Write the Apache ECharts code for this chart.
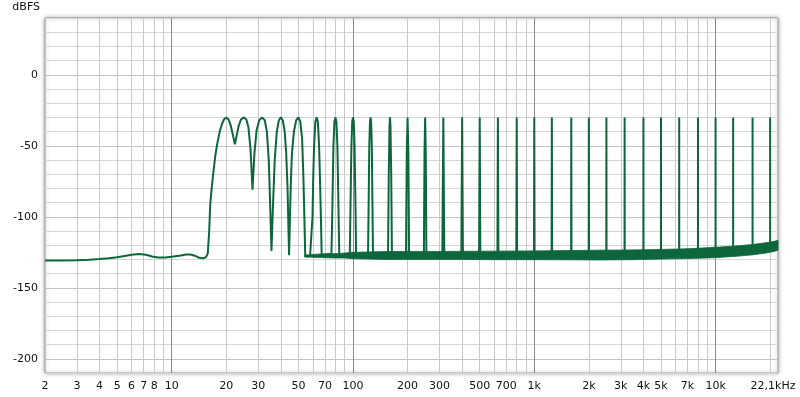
<!DOCTYPE html>
<html>
<head>
<meta charset="utf-8">
<script src="https://cdn.jsdelivr.net/npm/echarts@6/dist/echarts.min.js"></script>
<style>
html,body{margin:0;padding:0;background:#fff;}
#chart{width:800px;height:397px;}
</style>
</head>
<body>
<div id="chart"></div>
<script>
// ---- data ----
const curvePoints = [
  [2,-130.8],[2.5,-130.8],[3,-130.6],[3.5,-130.3],[4,-129.8],[4.5,-129.2],[5,-128.5],[5.5,-127.6],
  [6,-126.8],[6.6,-126.2],[7.2,-126.7],[7.8,-127.9],[8.4,-128.6],[9.2,-128.6],[10,-128.2],[11,-127.5],
  [12,-126.6],[12.7,-126.5],[13.4,-127.4],[14.2,-128.9],[14.9,-129.2],[15.4,-128.6],[15.8,-126],
  [16.1,-110],[16.3,-92],[16.6,-80],[17.0,-68],[17.4,-57],[17.8,-49],[18.4,-40],[18.9,-35],[19.4,-31.5],
  [20,-30],[20.6,-31.5],[21.2,-36],[21.8,-43],[22.3,-49],[22.8,-43],[23.4,-36],[24.1,-31.5],
  [25,-30],[25.8,-31.5],[26.5,-37],[27.2,-52],[27.9,-81],[28.6,-55],[29.4,-39],[30.4,-32],
  [31.5,-30],[32.6,-32],[33.5,-40],[34.3,-60],[34.9,-90],[35.5,-124],[36.2,-92],[37,-60],[38,-40],[39,-32],
  [40,-30],[41,-32],[42,-40],[42.8,-55],[43.5,-78],[44.4,-127],[45.3,-80],[46,-56],[47.2,-40],[48.6,-32],
  [50,-30],[51.2,-33],[52.4,-45],[53.2,-70],[53.8,-95],[54.5,-127],[56,-128],[58,-127],[59,-126.5],
  [59.8,-100],[60.4,-70],[61,-50],[62,-33],[63,-30],[64,-33],[65,-50],[65.8,-75],[66.5,-100],[67.2,-127],
  [70,-128],[73,-126],[76,-127],[76.8,-100],[77.4,-75],[78,-50],[79,-33],
  [80,-30],[81,-33],[82,-50],[82.7,-75],[83.3,-100],[84,-127],[88,-128.5],[92,-126],[96,-127.5],
  [96.7,-100],[97.4,-72],[98,-50],[99,-33],[100,-30],[101,-33],[102,-50],[102.7,-75],[103.4,-100],[104,-128],
  [121,-128],[122,-90],[123,-50],[124,-34],[125,-30],[126,-34],[127,-50],[128,-90],[129,-128],
  [156,-128],[157.5,-70],[159,-36],[160,-30],[161,-36],[162.5,-70],[164,-128],
  [196,-128],[198,-55],[200,-30],[202,-55],[204,-128],
  [246,-128],[248,-55],[250,-30],[252,-55],[254,-128],
  [311,-128],[315,-30],[319,-128],
  [396,-127.5],[400,-30],[404,-127.5],
  [496,-127.5],[500,-30],[504,-127.5],
  [626,-127],[630,-30],[634,-127],
  [796,-127],[800,-30],[804,-127],
  [996,-127],[1000,-30],[1004,-127],
  [1246,-127],[1250,-30],[1254,-127],
  [1596,-127],[1600,-30],[1604,-127],
  [1996,-127],[2000,-30],[2004,-127],
  [2496,-127],[2500,-30],[2504,-127],
  [3146,-126.5],[3150,-30],[3154,-126.5],
  [3996,-126.5],[4000,-30],[4004,-126.5],
  [4996,-126],[5000,-30],[5004,-126],
  [6296,-126],[6300,-30],[6304,-126],
  [7996,-125.5],[8000,-30],[8004,-125.5],
  [9996,-125],[10000,-30],[10004,-125],
  [12496,-124.5],[12500,-30],[12504,-124.5],
  [15996,-123],[16000,-30],[16004,-123],
  [19996,-121],[20000,-30],[20004,-121],
  [22100,-119.5]
];
const bandHz     = [54, 60, 70, 80, 90, 100, 120, 150, 200, 300, 400, 600, 1000, 1500, 2300, 3500, 5000, 7000, 10000, 13000, 16000, 19000, 21000, 22100];
const bandTop    = [-127,-126.5,-126,-126,-125.5,-125,-124.8,-124.5,-124.4,-124.4,-124.3,-124.2,-124,-123.8,-123.5,-123.3,-123,-122.5,-121.5,-120.5,-119.5,-118.2,-117.4,-116.5];
const bandBottom = [-128.3,-128.5,-128.8,-129,-129,-129.5,-129.7,-130,-130,-130,-130,-130.2,-130.2,-130.3,-130.4,-130.2,-129.8,-129.4,-128.8,-127.8,-126.8,-125.5,-124.4,-123.5];
const gridMinorHz  = [3,4,5,6,7,8,9,20,30,40,50,60,70,80,90,200,300,400,500,600,700,800,900,2000,3000,4000,5000,6000,7000,8000,9000,20000];
const gridDecadeHz = [10,100,1000,10000];
const tickHz     = [2,3,4,5,6,7,8,10,20,30,50,70,100,200,300,500,700,1000,2000,3000,4000,5000,7000,10000,22100];
const tickLabels = ['2','3','4','5','6','7','8','10','20','30','50','70','100','200','300','500','700','1k','2k','3k','4k','5k','7k','10k','22,1kHz'];
const yLabelValues = [0,-50,-100,-150,-200];

// ---- chart ----
const GREEN = '#0d663c';
const FONT = 'DejaVu Sans';
const labelStyle = {color:'#111', fontSize:11, fontFamily:FONT};

const markData = [];
gridMinorHz.forEach(v => markData.push({xAxis:v, lineStyle:{color:'#c9c9c9', width:1, type:'solid'}, label:{show:false}}));
gridDecadeHz.forEach(v => markData.push({xAxis:v, lineStyle:{color:'#8a8a8a', width:1, type:'solid'}, label:{show:false}}));
tickHz.forEach((v,i) => {
  const last = i === tickHz.length - 1;
  markData.push({
    xAxis:v,
    lineStyle:{color:'rgba(0,0,0,0)', width:1, type:'solid'},
    label:Object.assign({show:true, position:'start', distance:8, formatter:tickLabels[i],
      padding: last ? [0,10,0,0] : [0,0,0,0]}, labelStyle)
  });
});

const bandData = bandHz.map((h,i) => [h, bandTop[i], bandBottom[i]]);

const chart = echarts.init(document.getElementById('chart'), null, {renderer:'canvas'});
chart.setOption({
  animation:false,
  backgroundColor:'#fff',
  grid:{left:45, top:18, width:733, height:355, show:true, backgroundColor:'#fff',
        borderColor:'#9a9a9a', borderWidth:1,
        shadowBlur:4, shadowColor:'rgba(0,0,0,0.35)', shadowOffsetX:0, shadowOffsetY:0},
  xAxis:{type:'log', logBase:10, min:2, max:22100,
    axisLine:{show:false}, axisTick:{show:false}, axisLabel:{show:false}, splitLine:{show:false}},
  yAxis:{type:'value', min:-210, max:40, interval:10,
    name:'dBFS', nameLocation:'end', nameGap:5,
    nameTextStyle:Object.assign({align:'right', padding:[0,5,0,0]}, labelStyle),
    axisLine:{show:false}, axisTick:{show:false},
    axisLabel:Object.assign({margin:7, formatter:v => yLabelValues.indexOf(v) >= 0 ? String(v) : ''}, labelStyle),
    splitLine:{show:true, lineStyle:{color:['#d6d6d6','#c4c4c4','#d6d6d6','#d6d6d6','#d6d6d6'], width:1}}},
  series:[
    {type:'line', name:'grid', data:[], silent:true, z:1,
      markLine:{silent:true, z:1, symbol:['none','none'], animation:false, data:markData}},
    {type:'custom', name:'noise band', silent:true, z:2,
      encode:{x:0, y:[1,2]},
      data:bandData,
      renderItem:function(params, api){
        const i = params.dataIndexInside;
        if (i >= bandData.length - 1) return null;
        const a = api.coord([api.value(0,i), api.value(1,i)]);
        const b = api.coord([api.value(0,i+1), api.value(1,i+1)]);
        const c = api.coord([api.value(0,i+1), api.value(2,i+1)]);
        const d = api.coord([api.value(0,i), api.value(2,i)]);
        return {type:'polygon', shape:{points:[a,b,c,d]}, style:{fill:GREEN, stroke:GREEN, lineWidth:0.8}};
      }},
    {type:'line', name:'spectrum', silent:true, z:3, symbol:'none',
      lineStyle:{color:GREEN, width:2}, data:curvePoints}
  ]
});
</script>
</body>
</html>
